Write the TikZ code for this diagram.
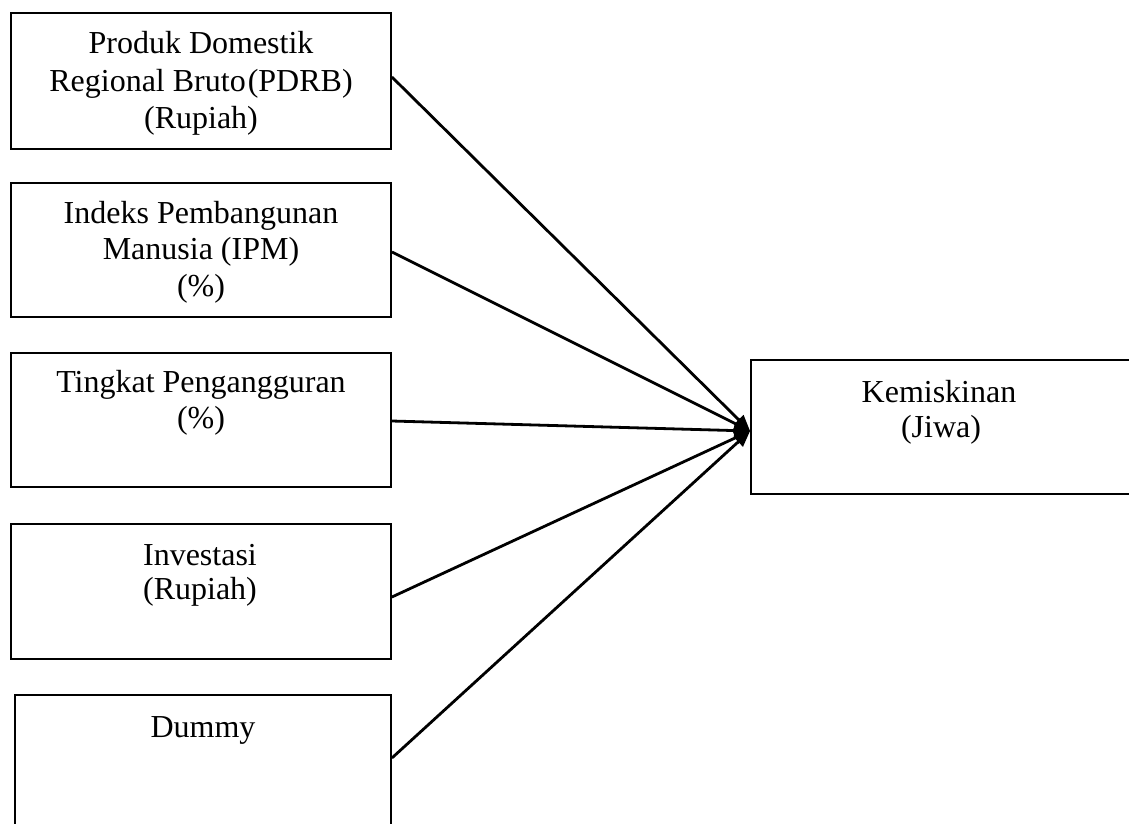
\documentclass[tikz,border=0pt]{standalone}
\usepackage{fontspec}
\setmainfont{Liberation Serif}
\usetikzlibrary{arrows.meta}
\begin{document}
\begin{tikzpicture}[x=1pt,y=-1pt,
  box/.style={draw=black,line width=1.8pt,rectangle,inner sep=0pt},
  txt/.style={font=\fontsize{32}{37}\selectfont,inner sep=0pt,anchor=base},
  conn/.style={line width=2.8pt,-{Triangle[length=16pt,width=13pt]}}]
\useasboundingbox (0,0) rectangle (1129,823);
\clip (0,0) rectangle (1129,823);
% boxes
\node[box,minimum width=380pt,minimum height=136pt] (b1) at (201,81) {};
\node[box,minimum width=380pt,minimum height=134pt] (b2) at (201,250) {};
\node[box,minimum width=380pt,minimum height=134pt] (b3) at (201,420) {};
\node[box,minimum width=380pt,minimum height=135pt] (b4) at (201,591.5) {};
\node[box,minimum width=376pt,minimum height=135pt] (b5) at (203,762.5) {};
\node[box,minimum width=384pt,minimum height=134pt] (k) at (943,427) {};
% texts
\node[txt] (t1a) at (201,53) {Produk Domestik};
\node[txt] (t1b) at (201,91) {Regional Bruto\kern2pt(PDRB)};
\node[txt] (t1c) at (201,128) {(Rupiah)};
\node[txt] (t2a) at (201,223) {Indeks Pembangunan};
\node[txt] (t2b) at (201,259) {Manusia (IPM)};
\node[txt] (t2c) at (201,296) {(\%)};
\node[txt] (t3a) at (201,392) {Tingkat Pengangguran};
\node[txt] (t3b) at (201,428) {(\%)};
\node[txt] (t4a) at (200,565) {Investasi};
\node[txt] (t4b) at (200,599) {(Rupiah)};
\node[txt] (t5a) at (203,737) {Dummy};
\node[txt] (tka) at (939,402) {Kemiskinan};
\node[txt] (tkb) at (941,437) {(Jiwa)};
% target
\coordinate (tgt) at ([yshift=-4pt]k.west);
% connectors
\draw[conn] ([yshift=4pt]b1.east) -- (tgt);
\draw[conn] ([yshift=-2pt]b2.east) -- (tgt);
\draw[conn] ([yshift=-1pt]b3.east) -- (tgt);
\draw[conn] ([yshift=-5.5pt]b4.east) -- (tgt);
\draw[conn] ([yshift=4.5pt]b5.east) -- (tgt);
\end{tikzpicture}
\end{document}
